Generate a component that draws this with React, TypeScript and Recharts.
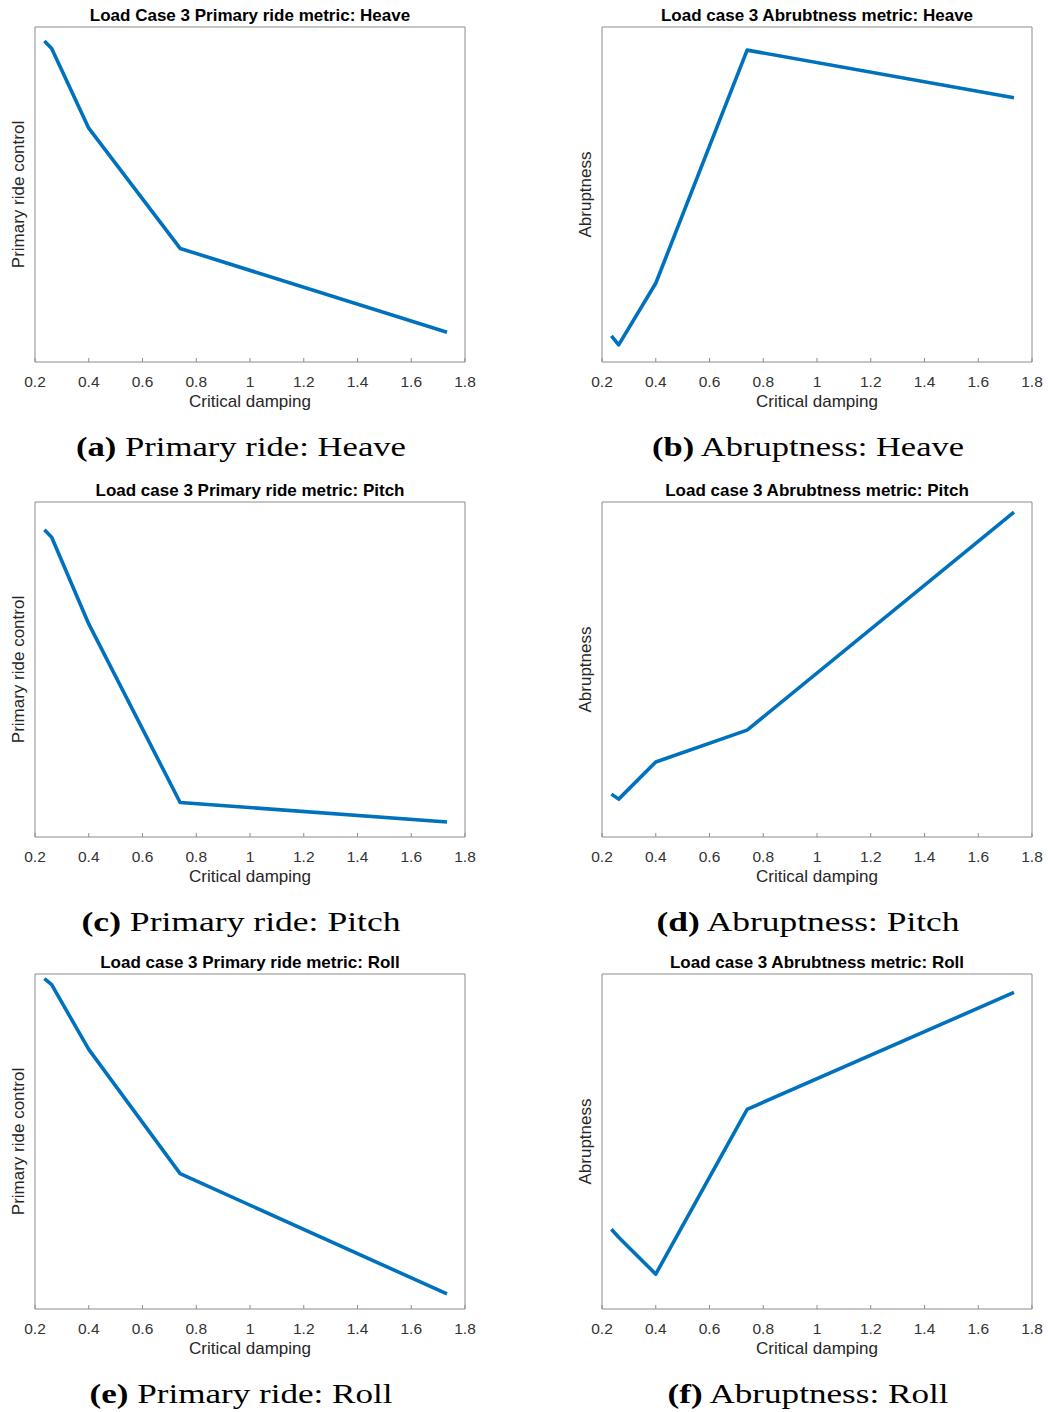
import { LineChart, Line, XAxis, YAxis, ReferenceArea } from "recharts";

// Critical damping values used in every sweep
const DAMPING = [0.235, 0.262, 0.4, 0.74, 1.733];

// Metric values (normalised, y axis carries no ticks in the source)
const HEAVE_PRIMARY = [0.958, 0.936, 0.698, 0.339, 0.089];
const HEAVE_ABRUPT = [0.078, 0.051, 0.235, 0.931, 0.789];
const PITCH_PRIMARY = [0.917, 0.895, 0.636, 0.103, 0.045];
const PITCH_ABRUPT = [0.128, 0.113, 0.224, 0.319, 0.97];
const ROLL_PRIMARY = [0.986, 0.968, 0.775, 0.404, 0.045];
const ROLL_ABRUPT = [0.238, 0.214, 0.104, 0.596, 0.945];

const X_TICKS = [0.2, 0.4, 0.6, 0.8, 1, 1.2, 1.4, 1.6, 1.8];

const BLUE = "#0072BD";
const BOX = "#8c8c8c";
const SANS = "'Liberation Sans', Arial, Helvetica, sans-serif";
const SERIF = "'Liberation Serif', 'Times New Roman', serif";

type Panel = {
  tag: string;
  title: string;
  yLabel: string;
  caption: string;
  values: number[];
  left: number;
  top: number;
  capW: number;
};

const PANELS: Panel[] = [
  { tag: "(a)", title: "Load Case 3 Primary ride metric: Heave", yLabel: "Primary ride control", caption: "Primary ride: Heave", values: HEAVE_PRIMARY, left: 0, top: 0, capW: 330 },
  { tag: "(b)", title: "Load case 3 Abrubtness metric: Heave", yLabel: "Abruptness", caption: "Abruptness: Heave", values: HEAVE_ABRUPT, left: 567, top: 0, capW: 312 },
  { tag: "(c)", title: "Load case 3 Primary ride metric: Pitch", yLabel: "Primary ride control", caption: "Primary ride: Pitch", values: PITCH_PRIMARY, left: 0, top: 475, capW: 319 },
  { tag: "(d)", title: "Load case 3 Abrubtness metric: Pitch", yLabel: "Abruptness", caption: "Abruptness: Pitch", values: PITCH_ABRUPT, left: 567, top: 475, capW: 303 },
  { tag: "(e)", title: "Load case 3 Primary ride metric: Roll", yLabel: "Primary ride control", caption: "Primary ride: Roll", values: ROLL_PRIMARY, left: 0, top: 947, capW: 303 },
  { tag: "(f)", title: "Load case 3 Abrubtness metric: Roll", yLabel: "Abruptness", caption: "Abruptness: Roll", values: ROLL_ABRUPT, left: 567, top: 947, capW: 281 },
];

function SubPlot({ p }: { p: Panel }) {
  const data = DAMPING.map((x, i) => ({ x, y: p.values[i] }));
  return (
    <div style={{ position: "absolute", left: p.left, top: p.top, width: 480, height: 470 }}>
      <LineChart width={480} height={420} data={data} margin={{ top: 27, left: 35, right: 15, bottom: 12 }}>
        <XAxis
          type="number"
          dataKey="x"
          domain={[0.2, 1.8]}
          ticks={X_TICKS}
          interval={0}
          height={46}
          axisLine={false}
          tickSize={-4}
          tickMargin={17.5}
          tickLine={{ stroke: BOX }}
          tick={{ fill: "#333", fontSize: 15.5, fontFamily: SANS }}
        />
        <XAxis
          xAxisId="top"
          orientation="top"
          type="number"
          dataKey="x"
          domain={[0.2, 1.8]}
          ticks={X_TICKS}
          interval={0}
          height={0}
          axisLine={false}
          tickSize={-4}
          tickLine={{ stroke: BOX }}
          tick={false}
        />
        <YAxis type="number" domain={[0, 1]} hide />
        <ReferenceArea x1={0.2} x2={1.8} y1={0} y2={1} fill="none" fillOpacity={0} stroke={BOX} strokeWidth={1} />
        <Line
          type="linear"
          dataKey="y"
          stroke={BLUE}
          strokeWidth={3.6}
          strokeLinejoin="round"
          dot={false}
          activeDot={false}
          isAnimationActive={false}
        />
      </LineChart>
      <svg width={480} height={470} style={{ position: "absolute", left: 0, top: 0, pointerEvents: "none" }}>
        <text x={250} y={21} textAnchor="middle" fontFamily={SANS} fontSize={17} fontWeight="bold" fill="#000">
          {p.title}
        </text>
        <text
          x={24}
          y={194.5}
          transform="rotate(-90 24 194.5)"
          textAnchor="middle"
          fontFamily={SANS}
          fontSize={17}
          fill="#262626"
        >
          {p.yLabel}
        </text>
        <text x={250} y={407} textAnchor="middle" fontFamily={SANS} fontSize={17} fill="#262626">
          Critical damping
        </text>
        <text
          x={241}
          y={456}
          textAnchor="middle"
          fontFamily={SERIF}
          fontSize={28}
          fill="#000"
          textLength={p.capW}
          lengthAdjust="spacingAndGlyphs"
        >
          <tspan fontWeight="bold">{p.tag}</tspan>
          <tspan>{"  " + p.caption}</tspan>
        </text>
      </svg>
    </div>
  );
}

export default function App() {
  return (
    <div style={{ position: "absolute", left: 0, top: 0, width: 1048, height: 1412, background: "#fff" }}>
      {PANELS.map((p) => (
        <SubPlot key={p.tag} p={p} />
      ))}
    </div>
  );
}
